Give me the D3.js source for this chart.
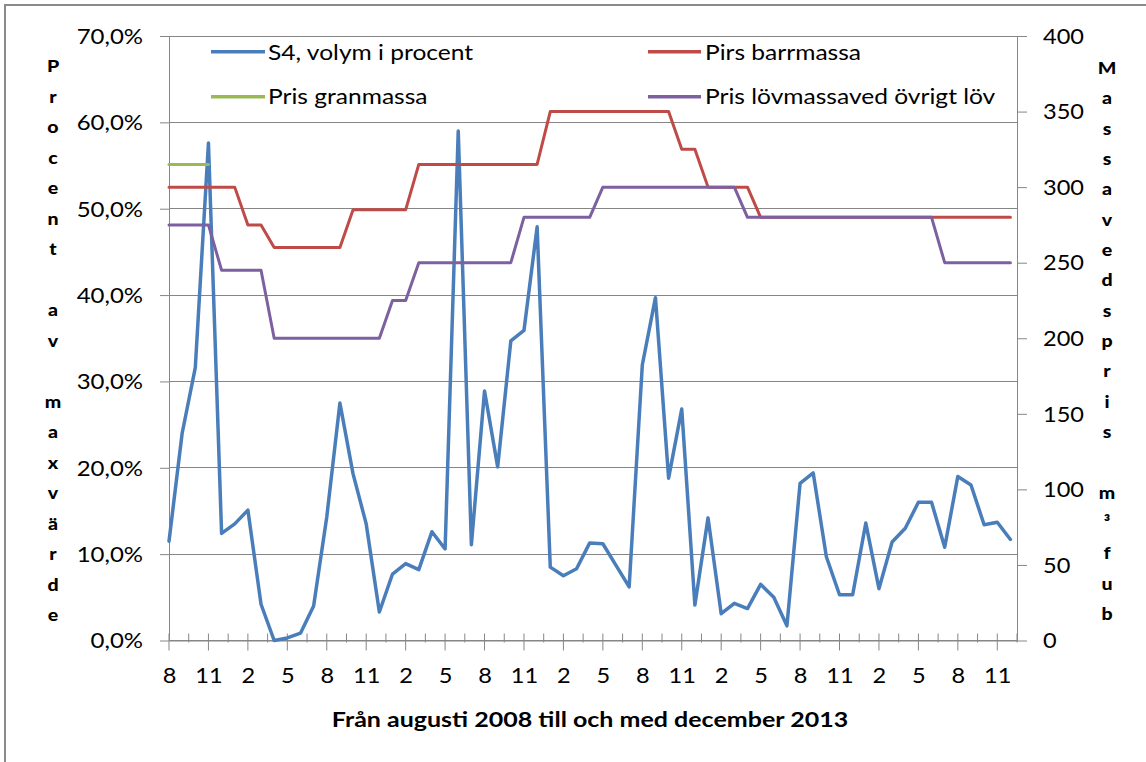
<!DOCTYPE html>
<html><head><meta charset="utf-8">
<script src="https://cdn.jsdelivr.net/npm/d3@7"></script>
<style>html,body{margin:0;padding:0;background:#fff;} svg{display:block;}</style>
</head><body><svg id="c" width="1146" height="762"></svg>
<script>
// ---------- data ----------
const categories = [
 "2008-08","2008-09","2008-10","2008-11","2008-12",
 "2009-01","2009-02","2009-03","2009-04","2009-05","2009-06","2009-07","2009-08","2009-09","2009-10","2009-11","2009-12",
 "2010-01","2010-02","2010-03","2010-04","2010-05","2010-06","2010-07","2010-08","2010-09","2010-10","2010-11","2010-12",
 "2011-01","2011-02","2011-03","2011-04","2011-05","2011-06","2011-07","2011-08","2011-09","2011-10","2011-11","2011-12",
 "2012-01","2012-02","2012-03","2012-04","2012-05","2012-06","2012-07","2012-08","2012-09","2012-10","2012-11","2012-12",
 "2013-01","2013-02","2013-03","2013-04","2013-05","2013-06","2013-07","2013-08","2013-09","2013-10","2013-11","2013-12"];
const tickLabels = ["8","11","2","5","8","11","2","5","8","11","2","5","8","11","2","5","8","11","2","5","8","11"];
const s4Volym = [11.5,24.0,31.6,57.6,12.4,13.5,15.1,4.2,0.0,0.3,
 0.85,4.0,14.3,27.5,19.3,13.5,3.3,7.7,8.9,8.2,
 12.6,10.6,59.0,11.1,28.9,20.1,34.7,35.9,47.9,8.5,
 7.5,8.3,11.3,11.2,8.7,6.2,31.9,39.7,18.8,26.8,
 4.1,14.2,3.1,4.3,3.7,6.5,5.0,1.7,18.2,19.4,
 9.7,5.3,5.3,13.6,6.0,11.4,13.0,16.0,16.0,10.8,
 19.0,18.0,13.4,13.7,11.7];
const prisBarr = [300,300,300,300,300,300,275,275,260,260,
 260,260,260,260,285,285,285,285,285,315,
 315,315,315,315,315,315,315,315,315,350,
 350,350,350,350,350,350,350,350,350,325,
 325,300,300,300,300,280,280,280,280,280,
 280,280,280,280,280,280,280,280,280,280,
 280,280,280,280,280];
const prisGran = [315,315,315,315,null,null,null,null,null,null,
 null,null,null,null,null,null,null,null,null,null,
 null,null,null,null,null,null,null,null,null,null,
 null,null,null,null,null,null,null,null,null,null,
 null,null,null,null,null,null,null,null,null,null,
 null,null,null,null,null,null,null,null,null,null,
 null,null,null,null,null];
const prisLov = [275,275,275,275,245,245,245,245,200,200,
 200,200,200,200,200,200,200,225,225,250,
 250,250,250,250,250,250,250,280,280,280,
 280,280,280,300,300,300,300,300,300,300,
 300,300,300,300,280,280,280,280,280,280,
 280,280,280,280,280,280,280,280,280,250,
 250,250,250,250,250];
const leftTicks = [0,10,20,30,40,50,60,70];
const rightTicks = [0,50,100,150,200,250,300,350,400];
const seriesNames = ["S4, volym i procent","Pirs barrmassa","Pris granmassa","Pris lövmassaved övrigt löv"];
const seriesColors = ["#4A7EBB","#BE4B48","#98B954","#7D60A0"];
const yTitleLeft = "Procent av maxvärde";
const yTitleRight = "Massavedspris m³fub";
const xTitle = "Från augusti 2008 till och med december 2013";

// ---------- layout ----------
const FONT = "Lato, 'Open Sans', sans-serif";
const GRAY = "#868686";
const svg = d3.select("#c");
const L = 169, R = 1017, T = 36, B = 640.5;

const x = d3.scaleLinear().domain([0, categories.length - 0.5]).range([L, R]);
const yL = d3.scaleLinear().domain([0, 70]).range([B, T]);
const yR = d3.scaleLinear().domain([0, 400]).range([B, T]);

function stretch(sx){
  return function(sel){
    sel.each(function(){
      const t = d3.select(this);
      const xx = +t.attr("x") || 0, yy = +t.attr("y") || 0;
      t.attr("x", 0).attr("y", 0).attr("transform", `translate(${xx},${yy}) scale(${sx},1)`);
    });
  };
}

// chart border
svg.append("rect").attr("x",5).attr("y",5).attr("width",1200).attr("height",800)
  .attr("fill","#fff").attr("stroke","#8a8a8a").attr("stroke-width",2);

// gridlines
svg.append("g").selectAll("line").data(leftTicks).join("line")
  .attr("x1", L).attr("x2", R).attr("y1", d => yL(d)).attr("y2", d => yL(d))
  .attr("stroke", GRAY).attr("stroke-width", 1).attr("shape-rendering","crispEdges");

const loc = d3.formatLocale({decimal:",", thousands:"\u00a0", grouping:[3], currency:["","kr"]});
const fmt1 = loc.format(".1f");

// left axis
const gL = svg.append("g").attr("transform", `translate(${L},0)`)
  .call(d3.axisLeft(yL).tickValues(leftTicks).tickFormat(d => fmt1(d) + "%").tickSize(9).tickSizeOuter(0).tickPadding(17));
gL.select(".domain").attr("stroke", GRAY);
gL.selectAll(".tick line").attr("stroke", GRAY);
gL.selectAll(".tick text").attr("font-family", FONT).attr("font-size", 20.5).attr("fill", "#000")
  .attr("dy", null).attr("y", 7.3).call(stretch(1.17));

// right axis
const gR = svg.append("g").attr("transform", `translate(${R},0)`)
  .call(d3.axisRight(yR).tickValues(rightTicks).tickSize(10).tickSizeOuter(0).tickPadding(16));
gR.select(".domain").attr("stroke", GRAY);
gR.selectAll(".tick line").attr("stroke", GRAY);
gR.selectAll(".tick text").attr("font-family", FONT).attr("font-size", 20.5).attr("fill", "#000")
  .attr("dy", null).attr("y", 7.3).call(stretch(1.15));

// bottom axis
const majorIdx = tickLabels.map((_, i) => i * 3);
const gB = svg.append("g").attr("transform", `translate(0,${B})`)
  .call(d3.axisBottom(x).tickValues(majorIdx).tickFormat((d, i) => tickLabels[i]).tickSize(0).tickSizeOuter(0).tickPadding(0));
gB.select(".domain").attr("stroke", GRAY);
gB.selectAll(".tick text").attr("font-family", FONT).attr("font-size", 20.5).attr("fill", "#000")
  .attr("dy", null).attr("y", 42.5).call(stretch(1.15));
const tickPos = d3.range(0, categories.length - 0.5 + 0.01, 1.5);
gB.append("g").selectAll("line").data(tickPos).join("line")
  .attr("x1", d => x(d)).attr("x2", d => x(d))
  .attr("y1", -7).attr("y2", d => (d % 3 === 0) ? 10 : 2)
  .attr("stroke", GRAY).attr("stroke-width", 1);

// series lines
const seriesData = [
  {vals: s4Volym, y: yL, w: 3.5},
  {vals: prisBarr, y: yR, w: 3},
  {vals: prisGran, y: yR, w: 3},
  {vals: prisLov, y: yR, w: 3}
];
const gS = svg.append("g");
seriesData.forEach((s, k) => {
  const line = d3.line().defined(d => d != null).x((d, i) => x(i)).y(d => s.y(d));
  gS.append("path").datum(s.vals).attr("d", line).attr("fill", "none")
    .attr("stroke", seriesColors[k]).attr("stroke-width", s.w)
    .attr("stroke-linejoin", "round").attr("stroke-linecap", "round");
});

// legend
const legendPos = [
  {x1: 211, x2: 265, tx: 268, ly: 51.7, ty: 59.5},
  {x1: 648, x2: 701, tx: 705, ly: 51.7, ty: 59.5},
  {x1: 211, x2: 265, tx: 268, ly: 96.7, ty: 104},
  {x1: 648, x2: 701, tx: 705, ly: 96.7, ty: 104}
];
const gLeg = svg.append("g");
seriesNames.forEach((n, k) => {
  const p = legendPos[k];
  gLeg.append("line").attr("x1", p.x1).attr("x2", p.x2).attr("y1", p.ly).attr("y2", p.ly)
    .attr("stroke", seriesColors[k]).attr("stroke-width", 3.5);
  gLeg.append("text").attr("x", p.tx).attr("y", p.ty).text(n)
    .attr("font-family", FONT).attr("font-size", 21).attr("fill", "#000").call(stretch(1.17));
});

// stacked vertical titles
function stacked(str, cx, y0, step){
  const g = svg.append("g");
  Array.from(str).forEach((ch, i) => {
    if (ch === " ") return;
    g.append("text").attr("x", cx).attr("y", y0 + i * step).attr("text-anchor", "middle")
      .attr("font-family", FONT).attr("font-size", 17).attr("font-weight", "900").attr("fill", "#000")
      .text(ch).call(stretch(1.15));
  });
}
stacked(yTitleLeft, 53, 72, 30.5);
stacked(yTitleRight, 1107, 74, 30.33);

// x title
svg.append("text").attr("x", 590).attr("y", 726.5).attr("text-anchor", "middle")
  .attr("font-family", FONT).attr("font-size", 20.5).attr("font-weight", "bold").attr("fill", "#000")
  .text(xTitle).call(stretch(1.22));
</script></body></html>
